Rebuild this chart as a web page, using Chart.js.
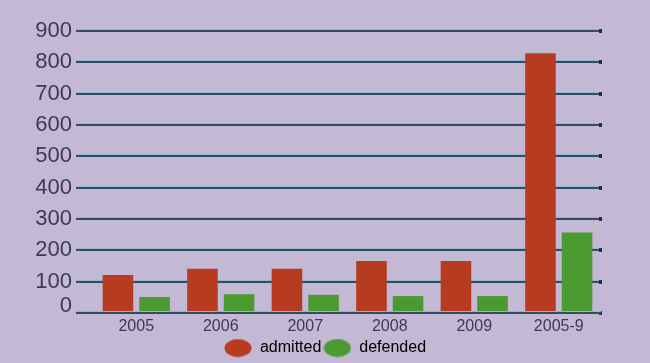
<!DOCTYPE html>
<html>
<head>
<meta charset="utf-8">
<script src="https://cdn.jsdelivr.net/npm/chart.js@4"></script>
<style>
  html, body { margin: 0; padding: 0; background: #c4b9d4; }
  #wrap { width: 650px; height: 363px; }
</style>
</head>
<body>
<div id="wrap"><canvas id="chart" width="650" height="363"></canvas></div>
<script>
// Chart data
const categories = ['2005', '2006', '2007', '2008', '2009', '2005-9'];
const admitted = [121, 141, 141, 166, 166, 829];
const defended = [51, 60, 58, 54, 54, 257];
const yTicks = [0, 100, 200, 300, 400, 500, 600, 700, 800, 900];

const colors = {
    admitted: '#b73c1f',
    defended: '#4b9a30',
    text: '#3b3b52',
    lineDark: '#344b66',
    lineLight: '#93b5cf'
};
const fontFamily = '"Liberation Sans", Arial, sans-serif';
const tickLen = 18;

// Ellipse markers for the legend
function ellipse(color) {
    const c = document.createElement('canvas');
    c.width = 28;
    c.height = 19;
    const g = c.getContext('2d');
    g.fillStyle = color;
    g.beginPath();
    g.ellipse(14, 9.5, 13.5, 9, 0, 0, Math.PI * 2);
    g.fill();
    return c;
}
const markers = [ellipse(colors.admitted), ellipse(colors.defended)];

// Two-tone gridlines, baseline over the bars, lifted "0" label
const gridShine = {
    id: 'gridShine',
    beforeDatasetsDraw(chart) {
        const y = chart.scales.y;
        const ctx = chart.ctx;
        const left = chart.chartArea.left - tickLen;
        const right = chart.chartArea.right;
        ctx.save();
        y.ticks.forEach((t, i) => {
            const py = Math.round(y.getPixelForTick(i));
            ctx.fillStyle = colors.lineLight;
            ctx.fillRect(left, py - 2, right - left, 1);
            ctx.fillStyle = '#1f2e44';
            ctx.fillRect(right - 2, py - 2, 3, 4);
        });
        ctx.restore();
    },
    afterDatasetsDraw(chart) {
        const y = chart.scales.y;
        const ctx = chart.ctx;
        const left = chart.chartArea.left - tickLen;
        const right = chart.chartArea.right;
        const py = Math.round(y.getPixelForValue(0));
        ctx.save();
        ctx.fillStyle = colors.lineLight;
        ctx.fillRect(left, py - 2, right - left, 1);
        ctx.fillStyle = colors.lineDark;
        ctx.fillRect(left, py - 1, right - left, 2);
        ctx.fillStyle = colors.text;
        ctx.font = '22px ' + fontFamily;
        ctx.textAlign = 'right';
        ctx.textBaseline = 'middle';
        ctx.fillText('0', left - 4, py - 7);
        ctx.restore();
    }
};

new Chart(document.getElementById('chart'), {
    type: 'bar',
    data: {
        labels: categories,
        datasets: [{
            label: 'admitted',
            data: admitted,
            backgroundColor: colors.admitted,
            categoryPercentage: 0.866,
            barPercentage: 0.836
        }, {
            label: 'defended',
            data: defended,
            backgroundColor: colors.defended,
            categoryPercentage: 0.866,
            barPercentage: 0.836
        }]
    },
    options: {
        responsive: false,
        animation: false,
        layout: {
            padding: { top: 31, right: 0, bottom: -3, left: 0 }
        },
        plugins: {
            tooltip: { enabled: false },
            legend: {
                position: 'bottom',
                labels: {
                    usePointStyle: true,
                    pointStyleWidth: 28,
                    padding: 2,
                    color: colors.text,
                    font: { family: fontFamily, size: 16 },
                    generateLabels: chart => chart.data.datasets.map((ds, i) => ({
                        text: ds.label,
                        fillStyle: ds.backgroundColor,
                        strokeStyle: ds.backgroundColor,
                        lineWidth: 0,
                        pointStyle: markers[i],
                        hidden: false,
                        datasetIndex: i
                    }))
                }
            }
        },
        scales: {
            x: {
                afterFit: scale => { scale.height = 25; },
                grid: { display: false, drawTicks: false },
                border: { display: false },
                ticks: {
                    color: colors.text,
                    padding: 4,
                    font: { family: fontFamily, size: 16 }
                }
            },
            y: {
                min: 0,
                max: 900,
                afterBuildTicks: scale => {
                    scale.ticks = yTicks.map(v => ({ value: v }));
                },
                afterFit: scale => { scale.width = 94; },
                border: { display: false },
                grid: {
                    color: colors.lineDark,
                    lineWidth: 2,
                    tickLength: tickLen
                },
                ticks: {
                    autoSkip: false,
                    padding: 4,
                    color: ctx => ctx.tick.value === 0 ? 'rgba(0,0,0,0)' : colors.text,
                    font: { family: fontFamily, size: 22 }
                }
            },
            // empty right margin so the legend stays centred on the page
            gap: {
                type: 'linear',
                position: 'right',
                afterFit: scale => { scale.width = 49; },
                grid: { display: false },
                border: { display: false },
                ticks: { display: false }
            }
        }
    },
    plugins: [gridShine]
});
</script>
</body>
</html>
